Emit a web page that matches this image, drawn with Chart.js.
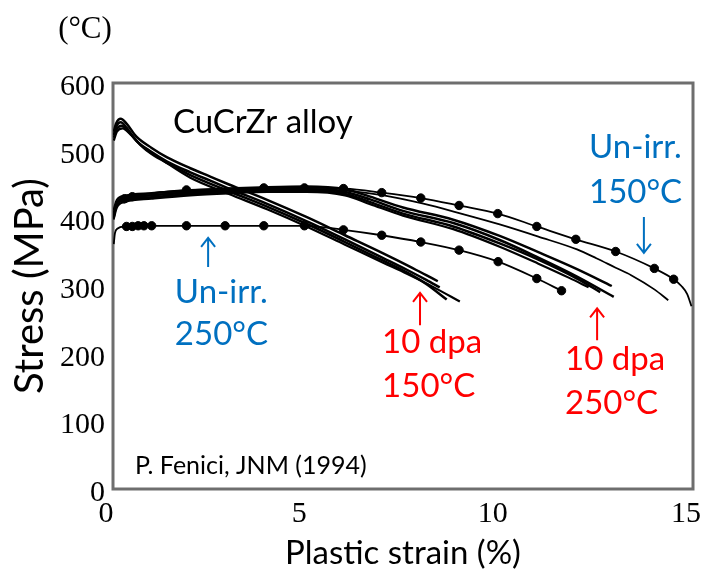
<!DOCTYPE html>
<html>
<head>
<meta charset="utf-8">
<script src="https://cdn.jsdelivr.net/npm/chart.js@4.4.1/dist/chart.umd.min.js"></script>
<style>
body{margin:0;background:#fff;}
</style>
</head>
<body>
<canvas id="c" width="702" height="573"></canvas>
<script>
// axis ranges and ticks
const xTicks = [0, 5, 10, 15];
const yTicks = [0, 100, 200, 300, 400, 500, 600];

// Un-irradiated 150 C (dotted curve) + plain companion curve
const unirr150 = [[0.02,398],[0.08,418],[0.2,426],[0.4,431],[0.7,435],[1,437],[1.5,440],[2,442],[3,444],[4,445],[5,445],[6,444],[6.95,438],[7.96,430],[8.95,419],[9.95,407],[10.96,388],[11.97,369],[13,351],[14,326],[14.5,310],[14.7,300],[14.85,288],[14.96,270]];
const unirr150Dots = [[0.3,429],[0.5,432],[1.9,442],[3.9,445],[4.95,445],[5.96,444],[6.95,438],[7.96,430],[8.95,419],[9.95,407],[10.96,388],[11.97,369],[13,351],[14,326],[14.5,310]];
const unirr150b = [[0.02,402],[0.1,420],[0.3,428],[1,434],[2,439],[3,442],[4,443],[5,443],[6,441],[7,434],[8,422],[9,407],[10,391],[11,373],[12,354],[12.5,341],[13,327],[13.4,316],[14,295],[14.36,279]];

// Un-irradiated 250 C (dotted curve)
const unirr250 = [[0.02,362],[0.05,378],[0.12,385],[0.3,388],[1,389],[2,389],[3,389],[4,389],[5,389],[5.96,383],[6.95,375],[7.96,365],[8.95,353],[9.96,336],[10.96,311],[11.6,293]];
const unirr250Dots = [[0.35,388],[0.5,388],[0.65,389],[0.8,389],[1.0,389],[1.9,389],[2.9,389],[3.9,389],[4.95,389],[5.96,383],[6.95,375],[7.96,365],[8.95,353],[9.96,336],[10.96,311],[11.6,293]];

// 10 dpa, 250 C bundle
const irr250a = [[0.02,412],[0.1,427],[0.3,433],[1,437],[2,441],[3,444],[4,446],[5,447],[6,443],[6.65,432],[7.5,416],[8.8,398],[10,374],[11,350],[12,325],[12.9,300]];
const irr250b = [[0.02,408],[0.1,423],[0.3,430],[1,434],[2,438],[3,441],[4,443],[5,443],[6,439],[6.65,428],[7.5,411],[8.8,393],[10,368],[11,342],[12,314],[12.95,284]];
const irr250c = [[0.02,404],[0.1,420],[0.3,427],[1,431],[2,436],[3,439],[4,441],[5,441],[6,436],[6.65,424],[7.5,407],[8.8,388],[10,363],[11,339],[12,311],[12.6,291]];
const irr250d = [[0.02,400],[0.1,416],[0.3,424],[1,429],[2,434],[3,437],[4,439],[5,439],[6,434],[6.65,421],[7.5,404],[8.8,384],[10,358],[11,333],[11.8,312],[12.3,298]];

// 10 dpa, 150 C bundle
const irr150a = [[0.02,528],[0.08,540],[0.2,547],[0.35,540],[0.6,521],[1,504],[1.4,490],[2,474],[2.5,462],[3,450],[4,427],[5,402],[6,375],[7,348],[7.6,331],[8.1,316],[8.4,307]];
const irr150b = [[0.02,523],[0.08,535],[0.2,542],[0.35,534],[0.6,515],[1,498],[1.4,484],[2,468],[2.5,456],[3,444],[4,421],[5,396],[6,369],[7,341],[7.6,324],[8.1,309],[8.45,298]];
const irr150c = [[0.02,519],[0.1,532],[0.22,537],[0.4,528],[0.7,509],[1,495],[1.5,479],[2,464],[3,440],[4,417],[5,392],[6,365],[7,337],[7.6,320],[8.1,303],[8.63,280]];
const irr150d = [[0.02,515],[0.1,528],[0.25,533],[0.45,524],[0.8,504],[1.2,489],[2,460],[3,436],[4,413],[5,388],[6,361],[7,334],[7.6,318],[8.3,298],[8.97,277]];

const BLUE = '#0070C0';
const RED = '#FF0000';
const SANS = 'Lato, "Open Sans", sans-serif';
const SERIF = '"Liberation Serif", "DejaVu Serif", serif';

// text labels placed in data units
const notes = [
  {text: 'CuCrZr alloy', x: 1.55, y: 542, color: '#000', size: 33},
  {text: 'Un-irr.', x: 12.31, y: 505, color: BLUE, size: 33},
  {text: '150°C', x: 12.31, y: 439, color: BLUE, size: 33},
  {text: 'Un-irr.', x: 1.6, y: 291, color: BLUE, size: 33},
  {text: '250°C', x: 1.6, y: 228, color: BLUE, size: 33},
  {text: '10 dpa', x: 6.96, y: 216, color: RED, size: 33},
  {text: '150°C', x: 6.96, y: 151, color: RED, size: 33},
  {text: '10 dpa', x: 11.69, y: 191, color: RED, size: 33},
  {text: '250°C', x: 11.69, y: 127, color: RED, size: 33},
  {text: 'P. Fenici, JNM (1994)', x: 0.57, y: 34, color: '#000', size: 25}
];
const arrows = [
  {x: 13.73, from: 402, to: 349, color: BLUE},
  {x: 2.46, from: 328, to: 371, color: BLUE},
  {x: 7.94, from: 242, to: 290, color: RED},
  {x: 12.52, from: 220, to: 267, color: RED}
];

function pts(arr) {
  return arr.map(p => ({x: p[0], y: p[1]}));
}
function curve(arr, w) {
  return {data: pts(arr), showLine: true, borderColor: '#000', borderWidth: w,
    pointRadius: 0, cubicInterpolationMode: 'monotone', fill: false};
}
function dots(arr) {
  return {data: pts(arr), showLine: false, pointRadius: 4.2, pointBackgroundColor: '#000',
    pointBorderColor: '#000', pointBorderWidth: 1};
}

const framePlugin = {
  id: 'frame',
  beforeDatasetsDraw(chart) {
    const a = chart.chartArea;
    const ctx = chart.ctx;
    ctx.save();
    ctx.strokeStyle = '#6e6e6e';
    ctx.lineWidth = 3;
    ctx.strokeRect(a.left, a.top, a.right - a.left, a.bottom - a.top);
    ctx.restore();
  }
};

const notesPlugin = {
  id: 'notes',
  afterDatasetsDraw(chart) {
    const ctx = chart.ctx;
    const xs = chart.scales.x, ys = chart.scales.y;
    ctx.save();
    ctx.textBaseline = 'middle';
    ctx.textAlign = 'left';
    notes.forEach(n => {
      ctx.font = n.size + 'px ' + SANS;
      ctx.fillStyle = n.color;
      ctx.fillText(n.text, xs.getPixelForValue(n.x), ys.getPixelForValue(n.y));
    });
    arrows.forEach(a => {
      const px = xs.getPixelForValue(a.x);
      const y1 = ys.getPixelForValue(a.from);
      const y2 = ys.getPixelForValue(a.to);
      const dir = y2 > y1 ? 1 : -1;
      ctx.strokeStyle = a.color;
      ctx.lineWidth = 2;
      ctx.beginPath();
      ctx.moveTo(px, y1);
      ctx.lineTo(px, y2);
      ctx.moveTo(px - 7, y2 - dir * 9);
      ctx.lineTo(px, y2);
      ctx.lineTo(px + 7, y2 - dir * 9);
      ctx.stroke();
    });
    ctx.font = '31px ' + SERIF;
    ctx.fillStyle = '#000';
    ctx.textAlign = 'center';
    ctx.fillText('(°C)', 85, 30);
    ctx.restore();
  }
};

new Chart(document.getElementById('c'), {
  type: 'scatter',
  data: {
    datasets: [
      curve(irr150a, 2.5), curve(irr150b, 2.5), curve(irr150c, 2.5), curve(irr150d, 2.2),
      curve(irr250a, 2.5), curve(irr250b, 2.5), curve(irr250c, 2.5), curve(irr250d, 2.2),
      curve(unirr150, 1.8), curve(unirr150b, 1.8), curve(unirr250, 1.8),
      dots(unirr150Dots), dots(unirr250Dots)
    ]
  },
  options: {
    responsive: false,
    animation: false,
    devicePixelRatio: 1,
    layout: {padding: {top: 83, right: 9, left: 0, bottom: 0}},
    plugins: {legend: {display: false}, tooltip: {enabled: false}},
    scales: {
      x: {
        type: 'linear', min: xTicks[0], max: xTicks[xTicks.length - 1],
        afterBuildTicks: s => { s.ticks = xTicks.map(v => ({value: v})); },
        afterFit: s => { s.height = 84; s.paddingLeft = 0; s.paddingRight = 0; },
        grid: {display: false, drawTicks: false},
        border: {display: false},
        ticks: {font: {family: SERIF, size: 30}, color: '#000', padding: 7, labelOffset: -7, maxRotation: 0},
        title: {display: true, text: 'Plastic strain (%)', color: '#000',
          font: {family: SANS, size: 33}, padding: {top: 0, bottom: 0}}
      },
      y: {
        type: 'linear', min: yTicks[0], max: yTicks[yTicks.length - 1],
        afterBuildTicks: s => { s.ticks = yTicks.map(v => ({value: v})); },
        afterFit: s => { s.width = 113; },
        grid: {display: false, drawTicks: false},
        border: {display: false},
        ticks: {font: {family: SERIF, size: 30}, color: '#000', padding: 8, labelOffset: 4},
        title: {display: true, text: 'Stress (MPa)', color: '#000',
          font: {family: SANS, size: 40}, padding: {top: 6, bottom: 0}}
      }
    }
  },
  plugins: [framePlugin, notesPlugin]
});
</script>
</body>
</html>
